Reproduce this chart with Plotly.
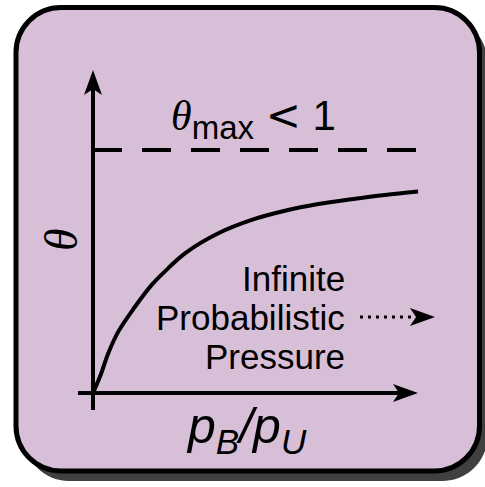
import plotly.graph_objects as go

# ---- data ----
ratio = [0.0, 0.108, 0.235, 0.389, 0.646, 0.903, 1.158, 1.415, 1.928, 2.442, 2.954, 3.466, 3.980, 4.492, 5.0]
theta = [0.0, 0.054, 0.131, 0.202, 0.284, 0.356, 0.411, 0.460, 0.526, 0.570, 0.600, 0.622, 0.638, 0.652, 0.663]
theta_max = 0.8
dash_x = [0.0, 5.03]

W, H = 485, 487
# data <-> pixel mapping of the hidden axes
X0_PX, PX_PER_X = 93, 65.0
Y0_PX, PX_PER_Y = 393, 303.75


def X(px):
    return px / W


def Y(py):
    return 1 - py / H


def dx(px):
    return (px - X0_PX) / PX_PER_X


def dy(py):
    return (Y0_PX - py) / PX_PER_Y


def rrect(x0, y0, x1, y1, r):
    k = 0.5523 * r
    p = [
        f"M{X(x0 + r)},{Y(y0)}",
        f"L{X(x1 - r)},{Y(y0)}",
        f"C{X(x1 - r + k)},{Y(y0)} {X(x1)},{Y(y0 + r - k)} {X(x1)},{Y(y0 + r)}",
        f"L{X(x1)},{Y(y1 - r)}",
        f"C{X(x1)},{Y(y1 - r + k)} {X(x1 - r + k)},{Y(y1)} {X(x1 - r)},{Y(y1)}",
        f"L{X(x0 + r)},{Y(y1)}",
        f"C{X(x0 + r - k)},{Y(y1)} {X(x0)},{Y(y1 - r + k)} {X(x0)},{Y(y1 - r)}",
        f"L{X(x0)},{Y(y0 + r)}",
        f"C{X(x0)},{Y(y0 + r - k)} {X(x0 + r - k)},{Y(y0)} {X(x0 + r)},{Y(y0)}",
        "Z",
    ]
    return " ".join(p)


def arrowhead(tx, ty, direction, L=25, Wd=18, notch=19):
    if direction == 'up':
        pts = [(tx, ty), (tx + Wd / 2, ty + L), (tx, ty + notch), (tx - Wd / 2, ty + L)]
    else:
        pts = [(tx, ty), (tx - L, ty - Wd / 2), (tx - notch, ty), (tx - L, ty + Wd / 2)]
    return "M" + " L".join(f"{X(a)},{Y(b)}" for a, b in pts) + " Z"


fig = go.Figure()

# curve
fig.add_trace(go.Scatter(x=ratio, y=theta, mode="lines",
                         line=dict(color="black", width=4, shape="spline"),
                         hoverinfo="skip"))
# theta_max dashed line
fig.add_trace(go.Scatter(x=dash_x, y=[theta_max, theta_max], mode="lines",
                         line=dict(color="black", width=4, dash="29px,20px"),
                         hoverinfo="skip"))
# axes lines
fig.add_trace(go.Scatter(x=[dx(78), dx(400)], y=[0, 0], mode="lines",
                         line=dict(color="black", width=4), hoverinfo="skip"))
fig.add_trace(go.Scatter(x=[0, 0], y=[dy(410), dy(88)], mode="lines",
                         line=dict(color="black", width=4), hoverinfo="skip"))
# dotted arrow line
fig.add_trace(go.Scatter(x=[dx(360), dx(414)], y=[dy(317), dy(317)], mode="lines",
                         line=dict(color="black", width=3, dash="3px,5px"),
                         hoverinfo="skip"))

shapes = [
    dict(type="path", path=rrect(16 + 8, 7.5 + 10, 479.5 + 8, 471 + 10, 45),
         xref="paper", yref="paper", fillcolor="#404040", line=dict(width=0), layer="below"),
    dict(type="path", path=rrect(16, 7.5, 479.5, 471, 45),
         xref="paper", yref="paper", fillcolor="#d8bfd8", line=dict(color="black", width=5), layer="below"),
    dict(type="path", path=arrowhead(93, 70, 'up'), xref="paper", yref="paper",
         fillcolor="black", line=dict(width=0)),
    dict(type="path", path=arrowhead(418, 393, 'right'), xref="paper", yref="paper",
         fillcolor="black", line=dict(width=0)),
    dict(type="path", path=arrowhead(435, 317, 'right'), xref="paper", yref="paper",
         fillcolor="black", line=dict(width=0)),
]

SERIF = "Liberation Serif"
SANS = "Liberation Sans"
annotations = [
    dict(x=X(253), y=Y(118), xref="paper", yref="paper", showarrow=False,
         xanchor="center", yanchor="middle",
         text=f'<span style="font-family:{SERIF}"><i>θ</i></span><sub><span style="font-size:33px">max</span></sub>'
              f' <span style="font-family:DejaVu Sans">&lt;</span> 1',
         font=dict(family=SANS, size=42, color="black")),
    dict(x=X(61), y=Y(240), xref="paper", yref="paper", showarrow=False, textangle=-90,
         xanchor="center", yanchor="middle",
         text="<i>θ</i>", font=dict(family=SERIF, size=46, color="black")),
    dict(x=X(247), y=Y(429), xref="paper", yref="paper", showarrow=False,
         xanchor="center", yanchor="middle",
         text="<i>p</i><sub><i>B</i></sub><i>/p</i><sub><i>U</i></sub>",
         font=dict(family=SANS, size=50, color="black")),
]
for txt, yc in [("Infinite", 278), ("Probabilistic", 317), ("Pressure", 356)]:
    annotations.append(dict(x=X(347), y=Y(yc), xref="paper", yref="paper", showarrow=False,
                            xanchor="right", yanchor="middle", text=txt,
                            font=dict(family=SANS, size=35, color="black")))

fig.update_layout(
    width=W, height=H, margin=dict(l=0, r=0, t=0, b=0, pad=0),
    paper_bgcolor="white", plot_bgcolor="rgba(0,0,0,0)",
    showlegend=False, shapes=shapes, annotations=annotations,
    xaxis=dict(range=[dx(0), dx(W)], visible=False, fixedrange=True),
    yaxis=dict(range=[dy(H), dy(0)], visible=False, fixedrange=True),
)

fig.write_html("out.html", config={"displayModeBar": False},
               post_script="document.body.style.margin='0px';document.body.style.overflow='hidden';")
